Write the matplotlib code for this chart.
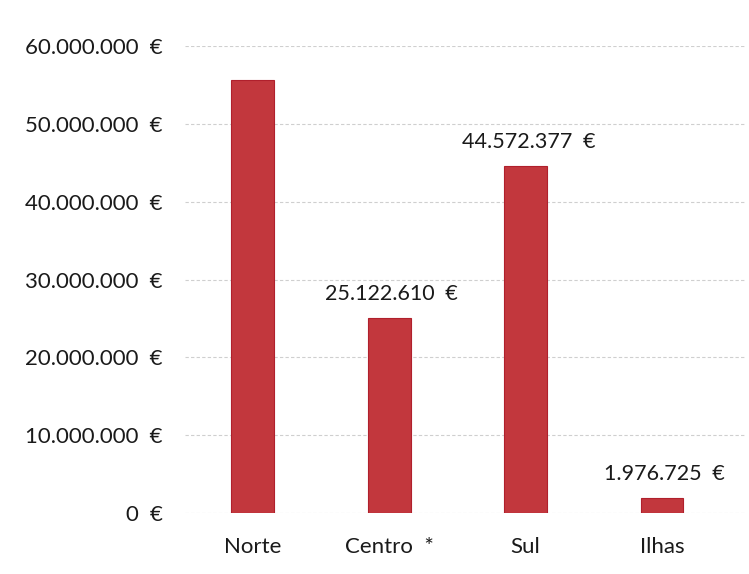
import matplotlib
matplotlib.use("Agg")
import matplotlib.pyplot as plt
from matplotlib.ticker import FuncFormatter

regions = ["Norte", "Centro  *", "Sul", "Ilhas"]
values = [55600000, 25122610, 44572377, 1976725]
show_label = [False, True, True, True]
yticks = [0, 10000000, 20000000, 30000000, 40000000, 50000000, 60000000]

bar_color = "#C2373D"


def euro(v, pos=None):
    # the scan shows a slightly wider gap before the euro sign
    return "{:,.0f}\u2002€".format(v).replace(",", ".")


plt.rcParams["font.family"] = ["Lato", "DejaVu Sans"]

fig = plt.figure(figsize=(7.49, 5.74), dpi=100, facecolor="white")
ax = fig.add_axes([0.247, 0.106, 0.748, 0.814])

x = list(range(len(regions)))
ax.bar(x, values, width=0.315, color=bar_color, edgecolor="#B0202C",
       linewidth=0.8, zorder=3)

for xi, v, show in zip(x, values, show_label):
    if show:
        ax.text(xi + 0.02, v + 1800000, euro(v), ha="center", va="bottom",
                fontsize=15.5, color="#1a1a1a")

ax.set_ylim(0, 60000000)
ax.set_xlim(-0.495, 3.61)
ax.set_yticks(yticks)
ax.yaxis.set_major_formatter(FuncFormatter(euro))
ax.set_xticks(x)
ax.set_xticklabels(regions)

ax.grid(True, axis="y", color="#cfcfcf", linestyle=(0, (3, 2)), linewidth=0.8,
        zorder=0)
for s in ax.spines.values():
    s.set_visible(False)
ax.tick_params(axis="both", length=0, labelsize=16, labelcolor="#1a1a1a")
ax.tick_params(axis="y", pad=16)
ax.tick_params(axis="x", pad=17)

fig.savefig("out.png", dpi=100, facecolor="white")
